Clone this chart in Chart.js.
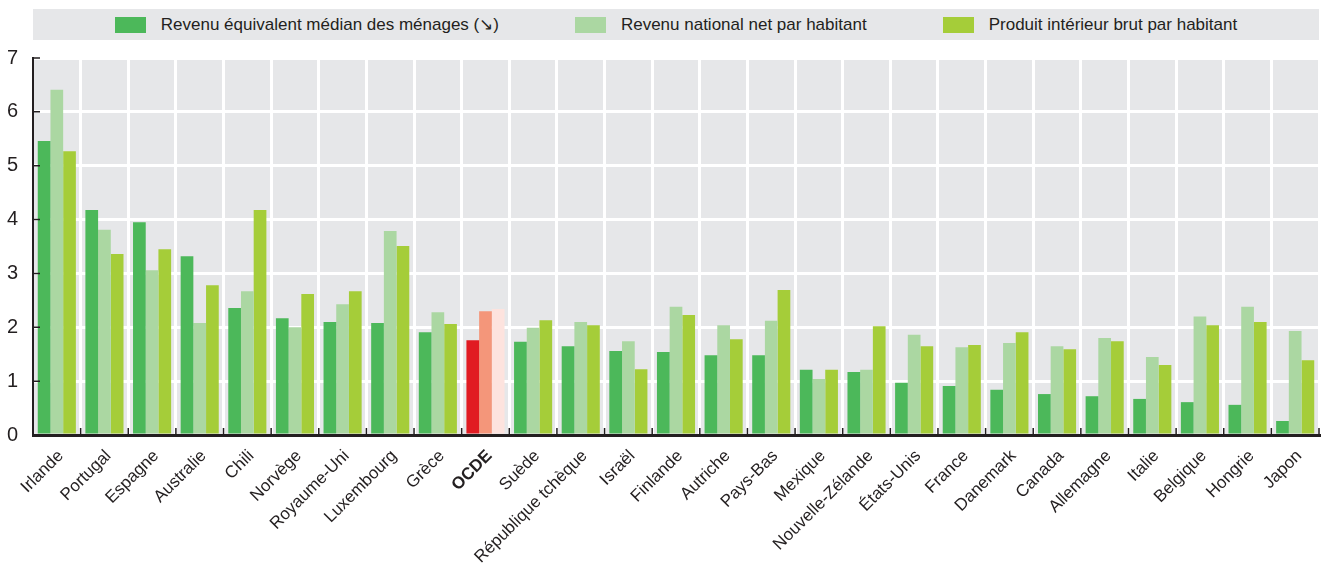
<!DOCTYPE html>
<html>
<head>
<meta charset="utf-8">
<script src="https://cdn.jsdelivr.net/npm/chart.js@4.4.1/dist/chart.umd.min.js"></script>
<style>
  body { margin: 0; background: #fff; }
  #wrap { position: relative; width: 1326px; height: 564px; }
  #legend {
    position: absolute; left: 33px; top: 9px; width: 1286px; height: 31px;
    background: #e6e7e9; display: flex; align-items: center; justify-content: center;
    font-family: 'Liberation Sans Narrow', 'Arial Narrow', 'Liberation Sans', sans-serif; font-size: 17px; color: #231f20;
  }
  .item { display: flex; align-items: center; margin: 0 38px; }
  .box { width: 31px; height: 16px; margin-right: 15px; }
</style>
</head>
<body>
<div id="wrap">
  <canvas id="chart" width="1326" height="564"></canvas>
  <div id="legend"></div>
</div>
<script>
const categories = ['Irlande', 'Portugal', 'Espagne', 'Australie', 'Chili', 'Norvège', 'Royaume-Uni', 'Luxembourg', 'Grèce', 'OCDE', 'Suède', 'République tchèque', 'Israël', 'Finlande', 'Autriche', 'Pays-Bas', 'Mexique', 'Nouvelle-Zélande', 'États-Unis', 'France', 'Danemark', 'Canada', 'Allemagne', 'Italie', 'Belgique', 'Hongrie', 'Japon'];

const medianIncome = [5.46, 4.18, 3.95, 3.32, 2.36, 2.17, 2.10, 2.08, 1.91, 1.76, 1.73, 1.65, 1.56, 1.54, 1.48, 1.48, 1.21, 1.17, 0.97, 0.91, 0.84, 0.76, 0.72, 0.67, 0.61, 0.56, 0.26];
const netNationalIncome = [6.41, 3.81, 3.06, 2.08, 2.67, 2.00, 2.43, 3.79, 2.28, 2.30, 1.99, 2.10, 1.74, 2.38, 2.04, 2.12, 1.04, 1.21, 1.86, 1.63, 1.71, 1.65, 1.80, 1.45, 2.20, 2.38, 1.93];
const gdpPerCapita = [5.27, 3.36, 3.45, 2.78, 4.18, 2.62, 2.67, 3.51, 2.06, 2.34, 2.13, 2.04, 1.22, 2.23, 1.78, 2.69, 1.21, 2.02, 1.65, 1.67, 1.91, 1.59, 1.74, 1.30, 2.04, 2.10, 1.39];

const yTicks = [0, 1, 2, 3, 4, 5, 6, 7];
const legendLabels = ['Revenu équivalent médian des ménages (\u2198)', 'Revenu national net par habitant', 'Produit intérieur brut par habitant'];

const seriesColors = ['#4cb85a', '#abd7a2', '#a5cd39'];
const highlightColors = ['#e11b22', '#f4967a', '#fde3de'];
const FONT = "'Liberation Sans Narrow', 'Arial Narrow', 'Liberation Sans', sans-serif";

function colorsFor(i) {
    return categories.map(c => c === 'OCDE' ? highlightColors[i] : seriesColors[i]);
}

// legend
const legend = document.getElementById('legend');
legendLabels.forEach((label, i) => {
    const item = document.createElement('div');
    item.className = 'item';
    item.innerHTML = `<span class="box" style="background:${seriesColors[i]}"></span><span>${label}</span>`;
    legend.appendChild(item);
});

const plotBackground = {
    id: 'plotBackground',
    beforeDraw(chart) {
        const { ctx, chartArea: a } = chart;
        ctx.save();
        ctx.fillStyle = '#e6e7e9';
        ctx.fillRect(a.left, a.top, a.right - a.left, a.bottom - a.top);
        ctx.restore();
    }
};

// short tick marks drawn inside the plot, like the original
const innerTicks = {
    id: 'innerTicks',
    afterDraw(chart) {
        const { ctx, chartArea: a, scales } = chart;
        ctx.save();
        ctx.strokeStyle = '#231f20';
        ctx.lineWidth = 1.5;
        ctx.beginPath();
        yTicks.forEach(v => {
            const y = scales.y.getPixelForValue(v);
            ctx.moveTo(a.left, y);
            ctx.lineTo(a.left + 7, y);
        });
        const step = (a.right - a.left) / categories.length;
        for (let i = 1; i <= categories.length; i++) {
            const x = a.left + step * i;
            ctx.moveTo(x, a.bottom);
            ctx.lineTo(x, a.bottom - 7);
        }
        ctx.stroke();
        ctx.restore();
    }
};

new Chart(document.getElementById('chart'), {
    type: 'bar',
    data: {
        labels: categories,
        datasets: legendLabels.map((label, i) => ({
            label,
            data: [medianIncome, netNationalIncome, gdpPerCapita][i],
            backgroundColor: colorsFor(i),
            borderWidth: 0,
            categoryPercentage: 0.8,
            barPercentage: 1.0
        }))
    },
    options: {
        responsive: false,
        animation: false,
        layout: { padding: { top: 58, right: 7, left: 0, bottom: 0 } },
        plugins: { legend: { display: false }, tooltip: { enabled: false } },
        scales: {
            x: {
                grid: { color: '#ffffff', lineWidth: 3, drawTicks: false, offset: true },
                border: { display: true, color: '#231f20', width: 3 },
                ticks: {
                    maxRotation: 45, minRotation: 45, padding: 11, labelOffset: 4, autoSkip: false,
                    color: '#231f20',
                    font: ctx => ({ family: FONT, size: 17, weight: categories[ctx.index] === 'OCDE' ? 'bold' : 'normal' })
                },
                afterFit(scale) { scale.height = 129; }
            },
            y: {
                min: 0, max: 7,
                grid: { color: '#ffffff', lineWidth: 3, drawTicks: false },
                border: { display: true, color: '#231f20', width: 2 },
                ticks: {
                    stepSize: 1, padding: 15, color: '#231f20',
                    font: { family: FONT, size: 20 }
                },
                afterFit(scale) { scale.width = 33; }
            }
        }
    },
    plugins: [plotBackground, innerTicks]
});
</script>
</body>
</html>
